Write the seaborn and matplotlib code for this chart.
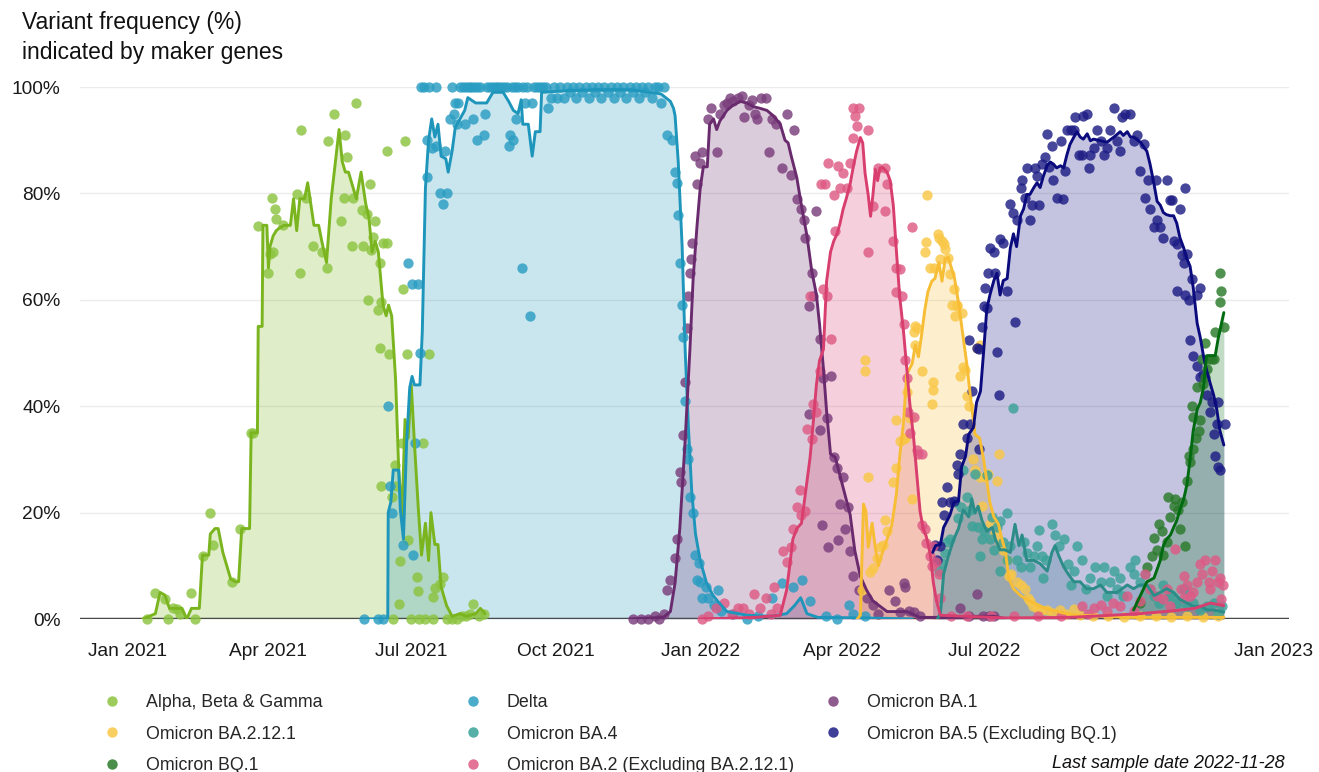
import pandas as pd
import numpy as np
import seaborn as sns
import matplotlib.pyplot as plt
import matplotlib.dates as mdates
from matplotlib.lines import Line2D

# days since 2021-01-01, percent
alpha_line = [(10,0),(18,1),(21,5),(24,4.5),(27,2),(32,2),(35,2),(38,0),(41,2),(46,2),(48,12),(52,12),(53,16),(56,17),(58,17),(61,12.5),(66,7.5),(69,7),(71,7),(73,17),(78,17),(79,35),(83,35),(83.5,55),(86,55),(86.5,74),(89,74),(90,66),(91,70),(93,72),(95,73),(97,73.5),(100,74),(104,74),(106,79),(108,73),(110,79),(113,79),(115,82),(119,74),(122,74),(124,71),(127,67),(130,79),(135,92),(137,86),(139,84),(141,84),(144,81),(146,79),(149,84),(152,78),(154,75.5),(156,69),(158,71),(160,69),(163,59),(165,57),(166.5,59),(168.5,57),(171,45),(173,28),(175,19),(177,37.5),(179,34),(181,44),(183,33),(185.5,20.6),(187.5,12),(190,18),(192,11),(193.5,20),(196,14),(198,14),(200,6),(203.5,2.5),(207,0.5),(212,1),(216,0.5),(222,1),(225,2),(228,1)]
alpha_pts = [(12.5,0),(18,4.8),(24,3.8),(26,0),(29.5,2),(31.5,1.8),(34,1),(41,4.8),(43,0),(48.5,11.9),(53,20),(55,13.9),(67,6.9),(72,17),(79,35),(80,35),(83.5,73.8),(90,65),(91,68.7),(92,79.2),(93,69),(94,77.1),(95,75.1),(99.5,74.1),(108,79.8),(110,65),(111,91.9),(114,79.2),(118.5,70.1),(124,69),(127,66),(128,89.9),(131.5,95),(136.5,74.8),(138,79.2),(139,90.9),(140,86.9),(143,70.1),(144,79.2),(146,97),(149.5,76.8),(150.5,70.1),(152.5,76.1),(153.5,60),(154.5,81.8),(155.5,69.4),(156.5,71.8),(158,74.8),(160,58),(161,50.9),(161,67),(162,59.6),(162,25),(163,70.7),(165.5,70.7),(165.5,87.9),(166.5,49.9),(168.5,23),(169.5,0),(170.5,29),(171.5,25),(173,2.8),(174,10.9),(175,33),(176,62),(177,89.9),(178,49.9),(179,14.9),(181,0),(184.5,7.9),(185.5,5.2),(186,0),(188.5,33),(190,0),(192,49.9),(195,4.2),(195,0),(196,5.9),(199.5,6.5),(201.5,7.9),(203.5,0),(207,0),(210,0),(213,0.5),(216,0.5),(218.5,1),(220.5,2.8),(224,0.5),(227,1)]

delta_line = [(149,0),(166,0),(166.3,20),(168,22),(169.5,28),(173,28),(174,20.6),(176,15),(178,33),(180,43.5),(181.5,45.6),(183,44),(186.5,44),(188,54),(190,81),(192,90),(194,94),(196,90.6),(198,93),(200,87),(203,86.5),(204.5,84),(207,88),(209,92.4),(212,94),(215,95.6),(217,98),(222,97),(226,97),(229,97),(233,99),(239.5,99),(243,97.3),(246,95.6),(249,95),(251,97.6),(252,93),(255.5,93),(258,87),(260,91.6),(263,91.6),(264,99),(280,99.3),(300,99.5),(320,99.5),(340,98.7),(346,97.3),(348,96),(349,94.6),(351,86),(353.5,70),(355.5,50),(357.5,36),(359.6,24),(362,16),(365,11),(369,6.8),(373,4.5),(376,3.4),(382,1.4),(395,0.7),(410,0.5),(420,1),(425,2.5),(429,4),(433,1),(440,0.3),(470,0.2),(500,0)]
delta_pts = [(151,0),(160,0),(163,0),(166,40),(167.5,25),(168.5,20),(176,14),(179,67),(181.5,63),(182,12),(183.5,33),(185,63),(186.5,50),(187,100),(189,100),(191,83),(191,90),(192,100),(194,88.6),(197,89),(197,100),(199,80),(201,78),(202.5,88),(204,80),(205.5,94),(207,100),(208,95),(209,97),(210,93),(211,97),(212,100),(214,100),(215,93),(216,100),(218,100),(219,100),(220.5,94),(221,100),(223,90),(223,100),(225,100),(227,91),(228,95),(229,100),(231,100),(233,100),(235,100),(236,100),(238,100),(240,100),(242,100),(243,89),(244,91),(245,100),(246,90),(247,100),(248,94),(249,100),(251.5,66),(252,100),(253.5,97),(255,100),(256.5,57),(258,97),(259,100),(261,100),(263,100),(265,100),(267,100),(268,96),(270,98),(272,100),(274,98),(276,100),(278,98),(280,100),(282,99),(284,100),(286,98),(288,100),(290,99),(292,100),(294,98),(296,100),(298,99),(300,100),(302,98),(304,100),(306,99),(308,100),(310,98),(312,100),(314,99),(316,100),(318,98),(320,100),(322,99),(324,100),(326,98),(328,100),(330,99),(332,100),(334,98),(336,100),(338,100),(340,97),(342,100),(344,91),(347,90),(349,84),(350,82),(351,76),(352,67),(353.5,59),(354,53),(355.5,41),(356.5,32),(357.5,30),(358.5,23),(360.5,20),(362,12),(363,7.4),(364,10.5),(365,7),(366,4),(369,6),(370,4),(374,2.7),(376.5,5.4),(378,1.5),(386,1),(395,0),(402,0.5),(411,4),(417,6.8),(424,6),(430,7.4),(435,3.4),(445,0.5),(452,0),(460,2.7),(462,1),(470,0.5)]

ba1_line = [(320,0),(341.5,0.3),(346,1.4),(349,6.8),(352,17),(355.5,34),(358.5,51),(360.5,64),(363,74),(365,81),(367,85),(369.5,85),(371,93),(373.5,94),(375.5,92),(377.5,93.6),(382,95.6),(386,96.6),(390.5,97.3),(394.5,97),(399,96.3),(403,96),(407.5,95.6),(411.5,94.6),(416,93),(419,90),(421,89.5),(423,87),(426.5,83),(429.5,77.7),(433,72),(436,65.5),(439,61),(441,55.4),(443.5,47),(445.5,39),(448,31),(451,30.4),(454,27),(457,23.6),(460.5,19.6),(463.5,12.8),(467,8),(471,5.4),(475,3.4),(484,1.4),(496.5,1.4),(505,0.3),(530,0.3),(540,0.5),(552,0.5),(560,0)]
ba1_pts = [(322,0),(327,0),(332,0),(336,0.5),(339,0),(342,1),(344,5.4),(346,7.4),(349,11.5),(350,15),(352,27.7),(353,25.7),(354,34.5),(355.5,44.6),(356.5,54.7),(357.5,60.8),(358.5,65),(359,67.6),(360,70.6),(362,87),(363,81.8),(365,85.8),(366,87.8),(370,94),(372,96),(375.5,87.8),(377.5,95),(380,96.6),(382,97),(384,98),(386,97.3),(389,98),(391.5,98.3),(393,94.3),(396,96.6),(398,97.6),(400,95),(401,94),(404,98),(407,98),(408.5,87.8),(410.5,94),(413.5,93),(417,84.8),(420,95),(423,83.4),(424.5,92),(426.5,79),(429.5,77),(431,75),(432,71.6),(434,58.8),(434,38.5),(436,65),(437,60.8),(439,76.7),(441,52.7),(441,35.5),(442.5,17.6),(443.5,45.3),(445.5,37.8),(446.5,13.5),(448,45.6),(450,30.4),(452,28.4),(453,14.9),(454,21.6),(456,26.7),(457,16.9),(459,21),(460.5,12.8),(462.5,8),(466,5.4),(471,4),(475,2.7),(478,1),(485,5.4),(489,3.4),(492,1.4),(494.5,6.7),(495.5,6),(498,1.5),(501,1.4),(505,0.5),(530.5,2),(536,0.5),(541,4.7),(545,0.5),(549,0.5),(552,0.5)]

ba2_line = [(365,0),(400,0.3),(416,0.7),(420,5.4),(422,10),(424,15),(426.5,17),(429.5,18),(432,23.6),(435,30.4),(437,37),(439,44),(441,48.6),(443.5,50.7),(445.5,63.5),(448,69),(450,71),(452,72.3),(454,74.3),(456,77),(458,79),(460.5,81.8),(462.5,85),(464.5,87.8),(467,90.5),(468.5,89.5),(470,83.8),(472,79.7),(473.5,75.7),(475,79.7),(476.5,84.5),(478,82.4),(479.5,84.8),(481.5,84.8),(484,84),(486,82.4),(488,77.7),(490,69),(492,60.8),(494.5,54),(496.5,47.3),(498.5,40.5),(501,33.8),(503,27),(505,20.3),(507,17),(509,15.5),(511.5,12.2),(513.5,6.8),(515.5,3.4),(518,0.7),(560,0.2),(600,0.3),(620,0.6),(645,1),(665,1.5),(680,2),(690,3),(698.5,2.5)]
ba2_pts = [(366,0),(370,0.5),(375,2),(380,3),(385,1),(389,2),(392,2),(396,1),(399,4.7),(403,2),(407,4),(410,1),(412,6),(414,2),(418,12.8),(420,10.8),(423,13.5),(424,16.9),(426.5,21),(428.5,24.3),(429.5,19.6),(432,20.3),(433,35.8),(435,60.8),(436,33.8),(437,40.5),(439,39),(441,46.6),(442,81.8),(443.5,62),(444.5,81.8),(445.5,60.8),(446.5,85.8),(448,52.7),(450,79.7),(451,73),(453,85.1),(454,81),(456,83.8),(458.5,81),(460.5,85.8),(462.5,90.5),(462.5,96),(463.5,94.6),(465,92.6),(466,96),(472,91.9),(472,69),(475,77.7),(478.5,84.8),(483,84.8),(483,76.7),(484,81.8),(488,71),(490,66),(490,61.5),(492,65.8),(493.5,60.8),(494.5,55.4),(495.5,48.6),(496.5,45.3),(497.5,39),(498.5,35),(500,73.6),(501,38),(503,31.8),(504,31),(506,31),(506,17.6),(508,17),(509,14.2),(511.5,11.8),(512.5,10),(513.5,13.8),(515,10.8),(517,8.4),(518,4),(525,0.5),(535,0.5),(550,0.5),(565,0.5),(580,0.5),(595,0.5),(608,2.4),(612,1),(615.5,2),(620,2.7),(624,1.5),(628,3),(632.5,2.4),(637,4.4),(641,1.5),(645,3.4),(648.5,8.4),(651.5,5.7),(656,4.4),(660,3.7),(662,5.7),(664.5,2.4),(667.5,13.1),(671,5.7),(673,4),(673,8),(675,6.4),(677,4.4),(679,5),(681.5,7),(683.5,10.4),(684.5,8.4),(686.5,11),(689,7),(690,5.7),(691,9),(693,11),(695,7),(696,7.7),(697,3.7),(698,6.4)]

ba2121_line = [(465,0),(467,0.7),(469,21.6),(470.5,20.3),(472,13.5),(474.5,18),(476.5,13.5),(478.5,10),(480.5,12),(484,15),(487,17.6),(490,23.6),(492,30.4),(494.5,37),(496.5,46),(500,48),(502,51.5),(504,49.3),(506,53.4),(508,58),(510,61.5),(512.5,63.5),(514.5,64),(517,67),(519,63.5),(521,67.6),(523,68),(525,66),(527,64),(529.5,59.5),(532,54),(535,47.5),(537,42),(539,37.4),(540,34.7),(543,34),(545.5,30),(547.5,26),(549.5,21.9),(552,19.2),(555,17.8),(557,15.2),(559.5,12.5),(561.5,7.7),(564.5,5.7),(569,4.4),(573,3.7),(577.5,3),(581.5,2.4),(588,1.7),(598.5,1),(607,0.7),(640,0.3),(698.5,0.3)]
ba2121_pts = [(468,5.4),(470,48.6),(470,46.6),(472,26.7),(473,8.8),(475,9.5),(477.5,11.5),(479.5,13.5),(481.5,14),(483,18.6),(484,16.6),(488,25.7),(490,37.5),(490,28.4),(492,33.4),(494.5,33.8),(495.5,34),(496.5,42.6),(498.5,37.8),(500,22.6),(501,54),(502,55),(502,51.5),(503,54.7),(506,46.6),(508,69),(508.5,70.9),(509.5,79.7),(511.5,66),(512.5,40.5),(513.5,44.6),(513.5,43),(514,66),(516.5,72.3),(517,71.7),(518,67.6),(519,71),(520,70.4),(521,69.6),(523,67.9),(524,64.9),(525.5,59),(526.5,62),(527.5,57),(528.5,58.8),(528.5,59),(530.5,45.7),(531.5,57.6),(532.5,47.3),(533.5,46.8),(535,42),(536,40),(539,30),(540,28),(541,51),(543,51.5),(543,26.6),(544.5,21.2),(546.5,26.6),(548.5,27.3),(549.5,17.8),(552.5,16),(554,26),(555,31),(556,14.5),(558,13),(560.5,11),(561.5,8),(563,8.4),(566.5,7),(569,6.4),(572,5.7),(574,4),(575,3.4),(577,2.5),(579.5,2),(582,1.7),(586,1.7),(590,1.2),(594,1.7),(598,1),(603,1.8),(607,0.7),(615,0.5),(625,0.5),(635,0.3),(645,0.5),(655,0.5),(665,0.3),(675,0.5),(685,0.3),(695,0.5)]

ba4_line = [(516,0),(518,1),(520,8.4),(523,11.8),(526.5,15),(529.5,17),(532.5,20.5),(536,19.2),(538,22.6),(540,19.9),(542,21.2),(544.5,18.5),(547.5,16.5),(551,17.2),(553,15),(556,13),(559,13),(562.5,12.5),(565.5,17.8),(568,13.8),(570,15.8),(573,11),(577.5,11),(581.5,10.4),(586,9),(589,12.5),(591,13.8),(593.5,11.8),(596.5,9.8),(599.5,8.4),(603,7),(607,7),(611,5.7),(615.5,5.7),(620,6.4),(624,5),(630.5,5),(637,6.4),(641,5.7),(645,6.4),(649.5,6.4),(654,4.4),(658,5),(662,5.7),(666.5,5),(670.5,3.7),(675,3),(679,2.4),(683.5,2.4),(688,1.7),(692,1.7),(698.5,1.3)]
ba4_pts = [(517,9),(519,10.5),(521,12.5),(522,14.5),(524,15),(527.5,21.9),(529.5,19),(531,21),(532.5,28),(535,23),(537,20.5),(538,17.5),(540,27.3),(542,17.2),(543,11.8),(544.5,15),(545.5,16.5),(547.5,27),(549.5,15),(551,19.2),(552,13),(554,17.2),(556,18.5),(556,9),(558,14.5),(560.5,19.9),(560.5,11),(562.5,13.8),(564.5,39.7),(566.5,11),(569,9.8),(571,14.5),(573,12.5),(575,9.8),(577.5,11.8),(579.5,13.8),(580.5,16.8),(582.5,11.8),(583.5,7.7),(585.5,11),(589,17.8),(591,15.8),(593.5,13.8),(596.5,15),(599.5,10.4),(601,6.4),(603,9),(605,13.8),(608,11),(611,5.7),(613.5,7.7),(616.5,9.8),(620,7),(622,9.8),(624,4.4),(626,7),(628.5,9),(630.5,5.7),(632.5,7.7),(634.5,4.4),(639,9.8),(641,8.4),(642,11.1),(645,7),(648.5,8.4),(651.5,5.7),(654,4.4),(657,3),(660,6.4),(664,4.4),(668.5,3),(673,5.7),(675,2.4),(679,3),(683,1.7),(688,2.4),(692,3),(695,1),(697.5,2.4)]

ba5_line = [(513,12.5),(515,13.8),(518,14),(520,17.2),(524,19.5),(526.5,21.9),(529.5,22.2),(531.5,28.6),(534,30.6),(536,34.7),(539,36),(541,40.7),(543.5,42.8),(545.5,50.2),(547.5,58.2),(549.5,60.9),(552,63.6),(554,65),(556,60.9),(558,63.6),(560.5,64),(562.5,69.7),(564.5,72.4),(566.5,70),(569,75.8),(571,77.1),(573,79.8),(575,79.8),(577.5,81.1),(579.5,82),(581.5,81.1),(583.5,83.2),(586,85.2),(588,85.9),(590,85.5),(592,84.8),(594.5,85.2),(596.5,84.8),(598.5,87.2),(600.5,89.2),(603,90.6),(605,91.6),(607,90.6),(609,90.2),(611.5,91.2),(613.5,89.9),(615.5,90.2),(620,89.9),(624,89.6),(628.5,90.6),(632.5,91.6),(634.5,90.9),(637,91.6),(639,90.6),(641,90.6),(645.5,89.6),(649.5,87.9),(651.5,85.5),(654,81.8),(656,78.5),(658,77.8),(660,76.4),(662,76),(664.5,75.8),(666.5,75.8),(668.5,74.4),(670.5,71.7),(673,69.7),(675,67.7),(677,66.3),(679,62.3),(681.5,55.6),(683.5,52.9),(685.5,49.5),(687.5,46.8),(690,44.1),(692,42.1),(694,39.4),(696,35.4),(698.5,32.7)]
ba5_pts = [(514.5,14),(516,11),(518,13.8),(519,21.9),(520,19.5),(522,24.9),(524,21.9),(526.5,22.2),(528.5,29),(529.5,27.3),(530.5,31),(532.5,36.7),(535,34),(536,52.5),(537,36.7),(538,42.8),(541,51),(542.5,32),(542.5,50.8),(544.5,54.9),(545.5,58.9),(546.5,62.3),(547.5,58.5),(548.5,65),(549.5,69.7),(552,69),(553,65),(554,50.2),(555,42.1),(556,71.4),(558,70.7),(560.5,61.6),(562.5,78.1),(564.5,76.4),(565.5,55.9),(566.5,75),(569,81.1),(570,82.5),(572,79.1),(573,84.8),(575,75),(576.5,77.8),(578.5,84.8),(579.5,83.2),(580.5,77.8),(582.5,85.5),(584.5,86.9),(586,91.2),(587,85),(589,88.9),(590,82.5),(592,79.1),(594.5,89.9),(596,79),(597.5,84.2),(598.5,91.9),(601,91.9),(603,91.9),(604,94.3),(606,87.2),(608,87.2),(609,94.6),(611.5,95),(612.5,84.8),(613.5,87.2),(615.5,88.5),(617.5,91.9),(620,89.9),(622,87.2),(624,88.5),(626,91.9),(628.5,96),(630.5,89.9),(632.5,87.9),(633.5,94.3),(635.5,95),(639,95),(641,89.9),(643,90.9),(645,84.2),(647.5,89.2),(648.5,79.1),(650.5,82.5),(651.5,77.1),(654,73.7),(655,82.5),(656,75),(658,73.7),(660,71.7),(662,82.5),(664,78.8),(665.5,78.8),(666.5,71),(668.5,70.4),(668.5,61.6),(670.5,77.1),(672,68.4),(673,67),(674,81.1),(674,60.9),(675,68.7),(676,59.9),(677,52.5),(678,63.9),(679,49.5),(681.5,60.9),(681.5,47.5),(683.5,62.3),(683.5,45.5),(685.5,46),(687.5,42.1),(690,39),(691,40.7),(692,34.7),(693,30.6),(694,36.7),(695,28.6),(695,40.7),(696,28),(699,36.7)]

bq1_line = [(641,1.7),(649.5,7),(654,7.7),(658,11),(660,13.8),(662,15),(664.5,15.8),(666.5,17.2),(668.5,18.5),(670.5,20.5),(673,22.6),(675,25.3),(677,30),(679,35.4),(681.5,39.4),(683.5,40.7),(685.5,43.4),(687.5,49.5),(691,49.5),(693,49.5),(695,52.9),(698.5,57.6)]
bq1_pts = [(645,3),(649.5,9.8),(652.5,11.8),(654,15.2),(656,13),(657,17.8),(659,16.5),(660,12),(662,14.5),(663,22.9),(664.5,19.2),(666.5,21.2),(667.5,22.6),(669.5,20.5),(670.5,17),(672,21.9),(674,13.8),(675,25.9),(676,30.6),(677,29.5),(678,40),(679,32),(679,38),(680.5,34),(681.5,43.7),(682.5,35.4),(683.5,37.4),(684.5,48.8),(685.5,44.2),(686.5,45.5),(686.5,51.9),(688,47),(689,48.8),(691,48.8),(692,48.8),(693,53.9),(696,59.6),(696,65),(697,61.6),(698.5,54.9)]

labels = ['Alpha, Beta & Gamma', 'Delta', 'Omicron BA.1', 'Omicron BA.2.12.1',
          'Omicron BA.4', 'Omicron BA.5 (Excluding BQ.1)', 'Omicron BQ.1',
          'Omicron BA.2 (Excluding BA.2.12.1)']
line_colors = ['#7ab51f', '#1e95bb', '#6a2b6e', '#f7bd35', '#2b8c88', '#0b0b7e', '#006a10', '#d83e6e']
point_colors = ['#8cc43f', '#2a9dc2', '#7a3e7c', '#f9c746', '#3aa298', '#1d1d85', '#2a7a2a', '#de5a85']

sns.set_theme(style='white')
plt.rcParams['font.family'] = ['Liberation Sans', 'DejaVu Sans']

base = pd.Timestamp('2021-01-01')
def to_df(pairs):
    d = pd.DataFrame(pairs, columns=['day', 'pct'])
    d['date'] = base + pd.to_timedelta(d['day'], unit='D')
    return d

series = [(alpha_line, alpha_pts), (delta_line, delta_pts), (ba1_line, ba1_pts),
          (ba2121_line, ba2121_pts), (ba4_line, ba4_pts), (ba5_line, ba5_pts),
          (bq1_line, bq1_pts), (ba2_line, ba2_pts)]

fig = plt.figure(figsize=(13.19, 7.72), dpi=100)
ax = fig.add_axes([80/1319, 1-619/772, 1209/1319, 532/772])

# fills
for (ln, pt), c in zip(series, line_colors):
    d = to_df(ln)
    ax.fill_between(d['date'], d['pct'], 0, color=c, alpha=0.24, lw=0, zorder=1)
# points
for (ln, pt), c in zip(series, point_colors):
    d = to_df(pt)
    sns.scatterplot(x=d['date'], y=d['pct'], ax=ax, color=c, s=55, alpha=0.82,
                    linewidth=0, clip_on=False, zorder=3, legend=False)
# lines
for (ln, pt), c in zip(series, line_colors):
    d = to_df(ln)
    sns.lineplot(x=d['date'], y=d['pct'], ax=ax, color=c, lw=2.1, estimator=None,
                 sort=False, zorder=4, legend=False)

ax.axhline(0, color='#4a4a4a', lw=2.5, zorder=2.5)
ax.set_xlim(pd.Timestamp('2020-12-02'), pd.Timestamp('2023-01-11'))
ax.set_ylim(0, 100)
ax.set_yticks([0, 20, 40, 60, 80, 100])
ax.set_yticklabels(['0%', '20%', '40%', '60%', '80%', '100%'])
ax.xaxis.set_major_locator(mdates.MonthLocator(bymonth=[1, 4, 7, 10]))
ax.xaxis.set_major_formatter(mdates.DateFormatter('%b %Y'))
ax.yaxis.grid(True, color='#ebebeb', lw=1)
ax.xaxis.grid(False)
ax.set_axisbelow(True)
for s in ax.spines.values():
    s.set_visible(False)
ax.tick_params(axis='y', length=0, pad=14, labelsize=13.8, labelcolor='#1a1a1a')
ax.tick_params(axis='x', length=0, pad=17, labelsize=13.8, labelcolor='#1a1a1a')
ax.set_xlabel('')
ax.set_ylabel('')

fig.text(22/1319, 1-11/772, 'Variant frequency (%)\nindicated by maker genes',
         fontsize=16.5, va='top', ha='left', linespacing=1.38, color='#111111')

# legend: three columns
cols = [[0, 3, 6], [1, 4, 7], [2, 5]]
col_x = [103, 464, 824]
for idx, x0 in zip(cols, col_x):
    handles = [Line2D([], [], ls='', marker='o', ms=7.5, color=point_colors[i],
                      alpha=0.85, mec='none') for i in idx]
    fig.legend(handles, [labels[i] for i in idx], loc='upper left',
               bbox_to_anchor=(x0/1319, 1-694/772), frameon=False, fontsize=12.8,
               handlelength=1.0, handletextpad=1.4, labelspacing=0.82,
               borderpad=0, borderaxespad=0)

fig.text(1285/1319, 1-764/772, 'Last sample date 2022-11-28', fontsize=13,
         style='italic', ha='right', va='center', color='#111111')

fig.savefig('out.png', dpi=100)
